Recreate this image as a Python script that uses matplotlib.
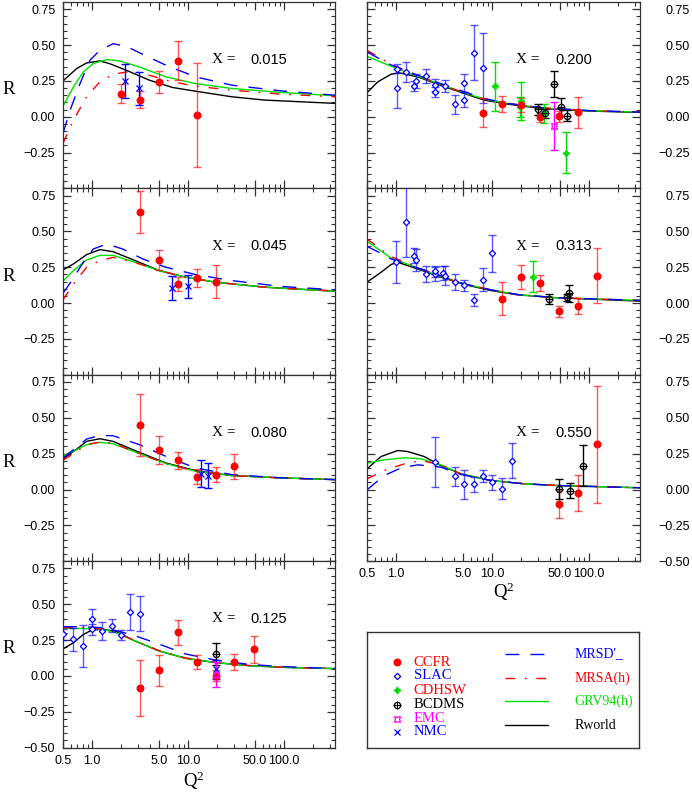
import matplotlib
matplotlib.use("Agg")
import matplotlib.pyplot as plt
from matplotlib.ticker import FixedLocator, FixedFormatter, NullFormatter

plt.rcParams['font.family'] = ['Liberation Sans', 'DejaVu Sans']
plt.rcParams['mathtext.fontset'] = 'custom'
plt.rcParams['mathtext.rm'] = 'Liberation Serif'
plt.rcParams['mathtext.it'] = 'Liberation Serif'

# ------------------------------------------------------------------ data
# ---- X = 0.015
x015_ccfr_q2 = [2.0, 3.2, 5.0, 7.8, 12.4]
x015_ccfr_r = [0.16, 0.12, 0.24, 0.39, 0.01]
x015_ccfr_err = [0.066, 0.06, 0.078, 0.137, 0.364]
x015_nmc_q2 = [2.2, 3.1]
x015_nmc_r = [0.25, 0.20]
x015_nmc_err = [0.12, 0.115]
x015_mrsd_q2 = [0.5, 0.593, 0.752, 0.954, 1.21, 1.66, 2.28, 3.38, 5.9, 12.0, 28.6, 93.7, 340]
x015_mrsd_r = [-0.116, 0.046, 0.231, 0.394, 0.463, 0.509, 0.491, 0.435, 0.359, 0.278, 0.22, 0.18, 0.15]
x015_mrsa_q2 = [0.5, 0.642, 0.881, 1.21, 1.66, 2.67, 3.96, 6.9, 12.0, 28.6, 93.7, 340]
x015_mrsa_r = [-0.185, -0.023, 0.139, 0.243, 0.296, 0.319, 0.289, 0.243, 0.213, 0.185, 0.157, 0.139]
x015_grv_q2 = [0.5, 0.642, 0.814, 1.03, 1.42, 1.94, 3.12, 5.9, 12.0, 28.6, 93.7, 340]
x015_grv_r = [0.074, 0.208, 0.312, 0.37, 0.398, 0.389, 0.347, 0.278, 0.231, 0.197, 0.169, 0.146]
x015_rw_q2 = [0.5, 0.695, 0.881, 1.21, 1.53, 2.28, 3.96, 6.9, 12.0, 28.6, 63, 340]
x015_rw_r = [0.25, 0.336, 0.375, 0.389, 0.37, 0.324, 0.255, 0.204, 0.178, 0.139, 0.116, 0.093]

# ---- X = 0.045
x045_ccfr_q2 = [3.2, 5.0, 7.8, 12.4, 19.4]
x045_ccfr_r = [0.637, 0.30, 0.134, 0.174, 0.15]
x045_ccfr_err = [0.145, 0.07, 0.05, 0.064, 0.113]
x045_nmc_q2 = [6.8, 10.0]
x045_nmc_r = [0.106, 0.116]
x045_nmc_err = [0.083, 0.083]
x045_curve_q2 = [0.5, 0.642, 0.881, 1.21, 1.66, 2.67, 5.0, 9.45, 19.3, 63, 340]
x045_rw_r = [0.231, 0.273, 0.338, 0.373, 0.359, 0.303, 0.227, 0.181, 0.146, 0.111, 0.083]
x045_grv_r = [0.153, 0.227, 0.301, 0.333, 0.333, 0.289, 0.227, 0.181, 0.146, 0.111, 0.083]
x045_mrsa_r = [0.023, 0.134, 0.25, 0.296, 0.319, 0.289, 0.227, 0.181, 0.146, 0.111, 0.085]
x045_mrsd_q2 = [0.5, 0.617, 0.814, 1.03, 1.42, 2.1, 3.38, 5.9, 12.0, 28.6, 93.7, 340]
x045_mrsd_r = [0.069, 0.157, 0.285, 0.377, 0.412, 0.377, 0.308, 0.25, 0.199, 0.157, 0.116, 0.093]

# ---- X = 0.080
x080_ccfr_q2 = [3.2, 5.0, 7.8, 12.4, 19.4, 30.5]
x080_ccfr_r = [0.451, 0.275, 0.204, 0.09, 0.104, 0.162]
x080_ccfr_err = [0.215, 0.095, 0.06, 0.05, 0.052, 0.086]
x080_nmc_q2 = [13.6, 16.2]
x080_nmc_r = [0.111, 0.097]
x080_nmc_err = [0.093, 0.087]
x080_curve_q2 = [0.5, 0.695, 0.881, 1.21, 1.66, 3.12, 5.9, 12.0, 28.6, 93.7, 340]
x080_rw_r = [0.213, 0.282, 0.336, 0.354, 0.336, 0.259, 0.185, 0.132, 0.097, 0.081, 0.069]
x080_grv_r = [0.236, 0.278, 0.313, 0.329, 0.319, 0.25, 0.181, 0.127, 0.097, 0.081, 0.069]
x080_mrsd_r = [0.22, 0.296, 0.352, 0.377, 0.375, 0.313, 0.231, 0.15, 0.104, 0.081, 0.069]
x080_mrsa_r = [0.204, 0.266, 0.313, 0.331, 0.324, 0.25, 0.181, 0.127, 0.097, 0.081, 0.069]

# ---- X = 0.125
x125_slac_q2 = [0.5, 0.64, 0.81, 1.0, 1.0, 1.26, 1.63, 2.02, 2.5, 3.2]
x125_slac_r = [0.289, 0.255, 0.211, 0.394, 0.324, 0.315, 0.35, 0.285, 0.447, 0.435]
x125_slac_err = [0.04, 0.078, 0.147, 0.07, 0.04, 0.062, 0.047, 0.038, 0.125, 0.122]
x125_ccfr_q2 = [3.2, 5.0, 7.8, 12.4, 19.4, 30.5, 48.3]
x125_ccfr_r = [-0.086, 0.039, 0.303, 0.095, 0.002, 0.097, 0.185]
x125_ccfr_err = [0.195, 0.109, 0.09, 0.048, 0.04, 0.054, 0.095]
x125_bcdms_q2 = [19.4]
x125_bcdms_r = [0.153]
x125_bcdms_err = [0.075]
x125_nmc_q2 = [19.4]
x125_nmc_r = [0.046]
x125_nmc_err = [0.065]
x125_emc_q2 = [19.8]
x125_emc_r = [0.007]
x125_emc_err = [0.087]
x125_curve_q2 = [0.5, 0.642, 0.814, 1.0, 1.31, 1.80, 2.67, 5.0, 9.45, 19.3, 42.4, 93.7, 340]
x125_rw_r = [0.188, 0.231, 0.289, 0.319, 0.326, 0.308, 0.25, 0.174, 0.123, 0.093, 0.072, 0.06, 0.051]
x125_grv_r = [0.331, 0.331, 0.331, 0.329, 0.324, 0.301, 0.25, 0.174, 0.123, 0.093, 0.072, 0.06, 0.051]
x125_mrsa_r = [0.336, 0.336, 0.335, 0.333, 0.326, 0.303, 0.252, 0.176, 0.125, 0.095, 0.073, 0.061, 0.052]
x125_mrsd_r = [0.343, 0.343, 0.342, 0.340, 0.336, 0.315, 0.285, 0.222, 0.153, 0.111, 0.081, 0.065, 0.051]

# ---- X = 0.200
x200_slac_q2 = [1.02, 1.02, 1.27, 1.52, 1.62, 2.04, 2.55, 2.55, 3.26, 4.08, 5.05, 5.05, 6.41, 8.0]
x200_slac_r = [0.197, 0.336, 0.313, 0.213, 0.248, 0.282, 0.22, 0.169, 0.215, 0.088, 0.238, 0.12, 0.447, 0.34]
x200_slac_err = [0.133, 0.03, 0.07, 0.037, 0.05, 0.05, 0.042, 0.035, 0.04, 0.066, 0.063, 0.055, 0.19, 0.245]
x200_ccfr_q2 = [8.0, 12.6, 19.8, 31.1, 49, 77.5]
x200_ccfr_r = [0.028, 0.086, 0.081, -0.005, 0.002, 0.03]
x200_ccfr_err = [0.1, 0.055, 0.05, 0.03, 0.04, 0.11]
x200_cdhsw_q2 = [10.7, 19.2, 19.8, 34.2, 57.8]
x200_cdhsw_r = [0.211, 0.07, 0.11, 0.023, -0.25]
x200_cdhsw_err = [0.172, 0.07, 0.13, 0.068, 0.143]
x200_bcdms_q2 = [29.7, 34.8, 43.5, 52, 59.7]
x200_bcdms_r = [0.051, 0.023, 0.227, 0.065, 0.007]
x200_bcdms_err = [0.038, 0.03, 0.09, 0.063, 0.037]
x200_emc_q2 = [43.8]
x200_emc_r = [-0.065]
x200_emc_err = [0.165]
x200_rw_q2 = [0.5, 0.646, 0.888, 1.08, 1.68, 2.92, 5.09, 8.2, 14.3, 31.5, 104, 340]
x200_rw_r = [0.167, 0.243, 0.296, 0.306, 0.278, 0.218, 0.162, 0.116, 0.088, 0.058, 0.039, 0.03]
x200_curve_q2 = [0.5, 0.888, 1.68, 2.92, 5.09, 8.2, 14.3, 31.5, 104, 340]
x200_grv_r = [0.421, 0.352, 0.282, 0.225, 0.167, 0.123, 0.093, 0.063, 0.042, 0.032]
x200_mrsa_r = [0.463, 0.366, 0.287, 0.225, 0.167, 0.123, 0.093, 0.063, 0.042, 0.032]
x200_mrsd_r = [0.451, 0.361, 0.289, 0.231, 0.174, 0.127, 0.093, 0.063, 0.042, 0.032]

# ---- X = 0.313
x313_slac_q2 = [1.0, 1.27, 1.52, 1.62, 2.04, 2.55, 2.55, 3.04, 3.26, 4.08, 5.05, 6.41, 8.0, 10.0]
x313_slac_r = [0.285, 0.569, 0.329, 0.299, 0.204, 0.204, 0.222, 0.208, 0.192, 0.146, 0.123, 0.023, 0.162, 0.347]
x313_slac_err = [0.148, 0.245, 0.052, 0.075, 0.055, 0.05, 0.04, 0.05, 0.065, 0.055, 0.037, 0.044, 0.081, 0.131]
x313_ccfr_q2 = [12.6, 19.8, 31, 49, 77.5, 122]
x313_ccfr_r = [0.03, 0.181, 0.139, -0.058, -0.021, 0.192]
x313_ccfr_err = [0.116, 0.083, 0.058, 0.04, 0.055, 0.19]
x313_cdhsw_q2 = [26.5]
x313_cdhsw_r = [0.185]
x313_cdhsw_err = [0.11]
x313_bcdms_q2 = [38.9, 59.7, 62.6]
x313_bcdms_r = [0.03, 0.042, 0.069]
x313_bcdms_err = [0.035, 0.025, 0.06]
x313_rw_q2 = [0.5, 0.70, 0.888, 1.04, 1.68, 2.92, 5.09, 9.6, 18.1, 47, 340]
x313_rw_r = [0.146, 0.215, 0.269, 0.285, 0.238, 0.181, 0.13, 0.088, 0.058, 0.037, 0.014]
x313_curve_q2 = [0.5, 0.888, 1.68, 2.92, 5.09, 9.6, 18.1, 47, 340]
x313_grv_r = [0.431, 0.315, 0.245, 0.185, 0.134, 0.093, 0.06, 0.037, 0.019]
x313_mrsa_r = [0.447, 0.324, 0.25, 0.185, 0.134, 0.093, 0.06, 0.037, 0.019]
x313_mrsd_q2 = [0.5, 0.70, 0.888, 1.68, 2.92, 5.09, 9.6, 18.1, 47, 340]
x313_mrsd_r = [0.396, 0.347, 0.308, 0.245, 0.19, 0.134, 0.093, 0.06, 0.037, 0.019]

# ---- X = 0.550
x550_slac_q2 = [2.55, 4.08, 5.05, 6.41, 8.0, 10.0, 12.5, 15.8]
x550_slac_r = [0.191, 0.091, 0.035, 0.035, 0.093, 0.051, 0.005, 0.202]
x550_slac_err = [0.175, 0.068, 0.098, 0.05, 0.04, 0.052, 0.072, 0.125]
x550_ccfr_q2 = [49, 77.5, 122]
x550_ccfr_r = [-0.1, -0.026, 0.314]
x550_ccfr_err = [0.1, 0.127, 0.405]
x550_bcdms_q2 = [49, 63.7, 87.4]
x550_bcdms_r = [0.005, -0.007, 0.167]
x550_bcdms_err = [0.07, 0.05, 0.143]
x550_rw_q2 = [0.5, 0.70, 1.04, 1.32, 1.96, 2.92, 4.7, 9.6, 21.3, 47, 340]
x550_rw_r = [0.144, 0.23, 0.272, 0.265, 0.23, 0.167, 0.109, 0.063, 0.04, 0.028, 0.012]
x550_curve_q2 = [0.5, 0.758, 1.22, 1.81, 2.92, 4.7, 9.6, 21.3, 47, 340]
x550_grv_r = [0.184, 0.207, 0.221, 0.214, 0.172, 0.109, 0.063, 0.04, 0.028, 0.012]
x550_mrsa_r = [0.074, 0.133, 0.179, 0.202, 0.172, 0.109, 0.063, 0.04, 0.028, 0.012]
x550_mrsd_q2 = [0.5, 0.758, 1.13, 1.68, 2.92, 4.7, 9.6, 21.3, 47, 340]
x550_mrsd_r = [-0.002, 0.098, 0.151, 0.172, 0.156, 0.105, 0.063, 0.04, 0.028, 0.012]

# tick labels / legend text
xtick_vals = [0.5, 1, 5, 10, 50, 100]
xtick_labels = ["0.5", "1.0", "5.0", "10.0", "50.0", "100.0"]
ytick_vals = [-0.5, -0.25, 0.0, 0.25, 0.5, 0.75]
ytick_labels = ["\u22120.50", "\u22120.25", "0.00", "0.25", "0.50", "0.75"]
data_names = ["CCFR", "SLAC", "CDHSW", "BCDMS", "EMC", "NMC"]
model_names = ["MRSD'_", "MRSA(h)", "GRV94(h)", "Rworld"]

# ------------------------------------------------------------------ styles
BLUE, RED, GREEN, MAG = "#0000ff", "#ff0000", "#00e000", "#ff00ff"
curve_style = {
    "mrsd": dict(color=BLUE, lw=1.0, ls=(0, (10, 8))),
    "mrsa": dict(color=RED, lw=1.0, ls=(0, (7, 7, 1.2, 7))),
    "grv": dict(color=GREEN, lw=1.0, ls="-"),
    "rw": dict(color="black", lw=1.0, ls="-"),
}
set_style = {
    "ccfr": dict(marker="o", ms=4.8, mfc=RED, mec=RED, ecolor=(1, 0, 0, 0.65)),
    "slac": dict(marker="D", ms=3.2, mfc="white", mec=BLUE, ecolor=(0, 0, 1, 0.65)),
    "cdhsw": dict(marker=(4, 1, 0), ms=5, mfc=GREEN, mec=GREEN, ecolor=GREEN),
    "bcdms": dict(marker="o", ms=4.5, mfc="none", mec="black", ecolor="black"),
    "emc": dict(marker=(4, 1, 45), ms=6, mfc="none", mec=MAG, ecolor=MAG),
    "nmc": dict(marker="x", ms=4.5, mfc=BLUE, mec=BLUE, ecolor=BLUE),
}

W, H = 692, 793
fig = plt.figure(figsize=(W / 100, H / 100), dpi=100)


def px_axes(x0, x1, y0, y1):
    return fig.add_axes([x0 / W, 1 - y1 / H, (x1 - x0) / W, (y1 - y0) / H])


XL = (63, 335)
XR = (367, 640)
ROW_TOP = 2.0
ROW_H = 186.4


def draw_set(ax, key, q, r, e):
    s = set_style[key]
    ax.errorbar(q, r, yerr=e, fmt="none", ecolor=s["ecolor"], elinewidth=1.0,
                capsize=3, capthick=1.0, zorder=3)
    ax.plot(q, r, ls="none", marker=s["marker"], ms=s["ms"], mfc=s["mfc"],
            mec=s["mec"], mew=0.9, zorder=4)
    if key == "bcdms":
        ax.plot(q, r, ls="none", marker="+", ms=5.5, mec="black", mew=0.8, zorder=4)


def setup_axes(ax, right, bottom):
    ax.set_xscale("log")
    ax.set_xlim(0.5, 340)
    ax.set_ylim(-0.5, 0.8)
    ax.xaxis.set_major_locator(FixedLocator(xtick_vals))
    minors = [0.6, 0.7, 0.8, 0.9, 2, 3, 4, 6, 7, 8, 9, 20, 30, 40, 60, 70, 80, 90, 200, 300]
    ax.xaxis.set_minor_locator(FixedLocator(minors))
    ax.xaxis.set_minor_formatter(NullFormatter())
    if bottom:
        ax.xaxis.set_major_formatter(FixedFormatter(xtick_labels))
    else:
        ax.xaxis.set_major_formatter(NullFormatter())
    ax.yaxis.set_major_locator(FixedLocator(ytick_vals))
    ax.yaxis.set_minor_locator(FixedLocator([round(-0.5 + 0.05 * i, 2) for i in range(27)]))
    labs = list(ytick_labels)
    if not bottom:
        labs[0] = ""
    ax.yaxis.set_major_formatter(FixedFormatter(labs))
    ax.tick_params(which="both", direction="in", top=True, right=True, left=True,
                   bottom=True, labelsize=9, colors="#333333", labelcolor="black")
    ax.tick_params(which="major", length=6, width=0.9)
    ax.tick_params(which="minor", length=3, width=0.8)
    ax.tick_params(axis="x", pad=5)
    for sp in ax.spines.values():
        sp.set_linewidth(0.9)
        sp.set_color("#333333")
    if right:
        ax.tick_params(axis="y", labelleft=False, labelright=True, pad=36)
        for lbl in ax.get_yticklabels():
            lbl.set_horizontalalignment("right")
    else:
        ax.tick_params(axis="y", pad=5.5)
        ax.text(-0.2, 0.53, "R", transform=ax.transAxes, fontsize=13.5,
                family=["Liberation Serif"], ha="center", va="center")
    if bottom:
        if right:
            xc, yc = 0.50, -0.165
        else:
            xc, yc = 0.48, -0.178
        ax.text(xc, yc, r"Q$^{2}$", transform=ax.transAxes, fontsize=13.5,
                family=["Liberation Serif"], ha="center", va="center")


panels = [
    # column, row, xlabel, curves(name,q,r), datasets
    (0, 0, "0.015",
     [("rw", x015_rw_q2, x015_rw_r), ("grv", x015_grv_q2, x015_grv_r),
      ("mrsa", x015_mrsa_q2, x015_mrsa_r), ("mrsd", x015_mrsd_q2, x015_mrsd_r)],
     [("ccfr", x015_ccfr_q2, x015_ccfr_r, x015_ccfr_err),
      ("nmc", x015_nmc_q2, x015_nmc_r, x015_nmc_err)]),
    (0, 1, "0.045",
     [("rw", x045_curve_q2, x045_rw_r), ("grv", x045_curve_q2, x045_grv_r),
      ("mrsa", x045_curve_q2, x045_mrsa_r), ("mrsd", x045_mrsd_q2, x045_mrsd_r)],
     [("ccfr", x045_ccfr_q2, x045_ccfr_r, x045_ccfr_err),
      ("nmc", x045_nmc_q2, x045_nmc_r, x045_nmc_err)]),
    (0, 2, "0.080",
     [("rw", x080_curve_q2, x080_rw_r), ("grv", x080_curve_q2, x080_grv_r),
      ("mrsa", x080_curve_q2, x080_mrsa_r), ("mrsd", x080_curve_q2, x080_mrsd_r)],
     [("ccfr", x080_ccfr_q2, x080_ccfr_r, x080_ccfr_err),
      ("nmc", x080_nmc_q2, x080_nmc_r, x080_nmc_err)]),
    (0, 3, "0.125",
     [("rw", x125_curve_q2, x125_rw_r), ("grv", x125_curve_q2, x125_grv_r),
      ("mrsa", x125_curve_q2, x125_mrsa_r), ("mrsd", x125_curve_q2, x125_mrsd_r)],
     [("slac", x125_slac_q2, x125_slac_r, x125_slac_err),
      ("ccfr", x125_ccfr_q2, x125_ccfr_r, x125_ccfr_err),
      ("bcdms", x125_bcdms_q2, x125_bcdms_r, x125_bcdms_err),
      ("nmc", x125_nmc_q2, x125_nmc_r, x125_nmc_err),
      ("emc", x125_emc_q2, x125_emc_r, x125_emc_err)]),
    (1, 0, "0.200",
     [("rw", x200_rw_q2, x200_rw_r), ("grv", x200_curve_q2, x200_grv_r),
      ("mrsa", x200_curve_q2, x200_mrsa_r), ("mrsd", x200_curve_q2, x200_mrsd_r)],
     [("slac", x200_slac_q2, x200_slac_r, x200_slac_err),
      ("cdhsw", x200_cdhsw_q2, x200_cdhsw_r, x200_cdhsw_err),
      ("ccfr", x200_ccfr_q2, x200_ccfr_r, x200_ccfr_err),
      ("bcdms", x200_bcdms_q2, x200_bcdms_r, x200_bcdms_err),
      ("emc", x200_emc_q2, x200_emc_r, x200_emc_err)]),
    (1, 1, "0.313",
     [("rw", x313_rw_q2, x313_rw_r), ("grv", x313_curve_q2, x313_grv_r),
      ("mrsa", x313_curve_q2, x313_mrsa_r), ("mrsd", x313_mrsd_q2, x313_mrsd_r)],
     [("slac", x313_slac_q2, x313_slac_r, x313_slac_err),
      ("cdhsw", x313_cdhsw_q2, x313_cdhsw_r, x313_cdhsw_err),
      ("ccfr", x313_ccfr_q2, x313_ccfr_r, x313_ccfr_err),
      ("bcdms", x313_bcdms_q2, x313_bcdms_r, x313_bcdms_err)]),
    (1, 2, "0.550",
     [("rw", x550_rw_q2, x550_rw_r), ("grv", x550_curve_q2, x550_grv_r),
      ("mrsa", x550_curve_q2, x550_mrsa_r), ("mrsd", x550_mrsd_q2, x550_mrsd_r)],
     [("slac", x550_slac_q2, x550_slac_r, x550_slac_err),
      ("ccfr", x550_ccfr_q2, x550_ccfr_r, x550_ccfr_err),
      ("bcdms", x550_bcdms_q2, x550_bcdms_r, x550_bcdms_err)]),
]

for col, row, xlab, curves, sets in panels:
    x0, x1 = XL if col == 0 else XR
    y0 = ROW_TOP + ROW_H * row
    ax = px_axes(x0, x1, y0, y0 + ROW_H)
    bottom = (col == 0 and row == 3) or (col == 1 and row == 2)
    setup_axes(ax, col == 1, bottom)
    for name, q, r in curves:
        ax.plot(q, r, zorder=2, **curve_style[name])
    for key, q, r, e in sets:
        draw_set(ax, key, q, r, e)
    ax.text(0.547, 0.69, "X =", transform=ax.transAxes, fontsize=11,
            family=["Liberation Serif"], va="center", ha="left")
    ax.text(0.69, 0.69, xlab, transform=ax.transAxes, fontsize=10.5,
            va="center", ha="left")

# ------------------------------------------------------------------ legend box
lg = px_axes(367, 639, 632, 748)
lg.set_xlim(0, 1)
lg.set_ylim(0, 1)
lg.set_xticks([])
lg.set_yticks([])
for sp in lg.spines.values():
    sp.set_linewidth(1.0)
    sp.set_color("#333333")

data_keys = ["ccfr", "slac", "cdhsw", "bcdms", "emc", "nmc"]
data_label_colors = [RED, BLUE, RED, "black", MAG, BLUE]
data_rows = [0.741, 0.621, 0.5, 0.371, 0.25, 0.138]
for key, name, c, yy in zip(data_keys, data_names, data_label_colors, data_rows):
    s = set_style[key]
    lg.plot([0.11], [yy], ls="none", marker=s["marker"], ms=s["ms"], mfc=s["mfc"],
            mec=s["mec"], mew=0.9)
    if key == "bcdms":
        lg.plot([0.11], [yy], ls="none", marker="+", ms=5.5, mec="black", mew=0.8)
    lg.text(0.172, yy, name, color=c, fontsize=10.5, family=["Liberation Serif"],
            va="center", ha="left")

model_keys = ["mrsd", "mrsa", "grv", "rw"]
model_colors = [BLUE, RED, GREEN, "black"]
model_rows = [0.81, 0.603, 0.405, 0.198]
for key, name, c, yy in zip(model_keys, model_names, model_colors, model_rows):
    lg.plot([0.509, 0.667], [yy, yy], **curve_style[key])
    lg.text(0.762, yy, name, color=c, fontsize=10, family=["Liberation Serif"],
            va="center", ha="left")

fig.savefig("out.png", dpi=100)
